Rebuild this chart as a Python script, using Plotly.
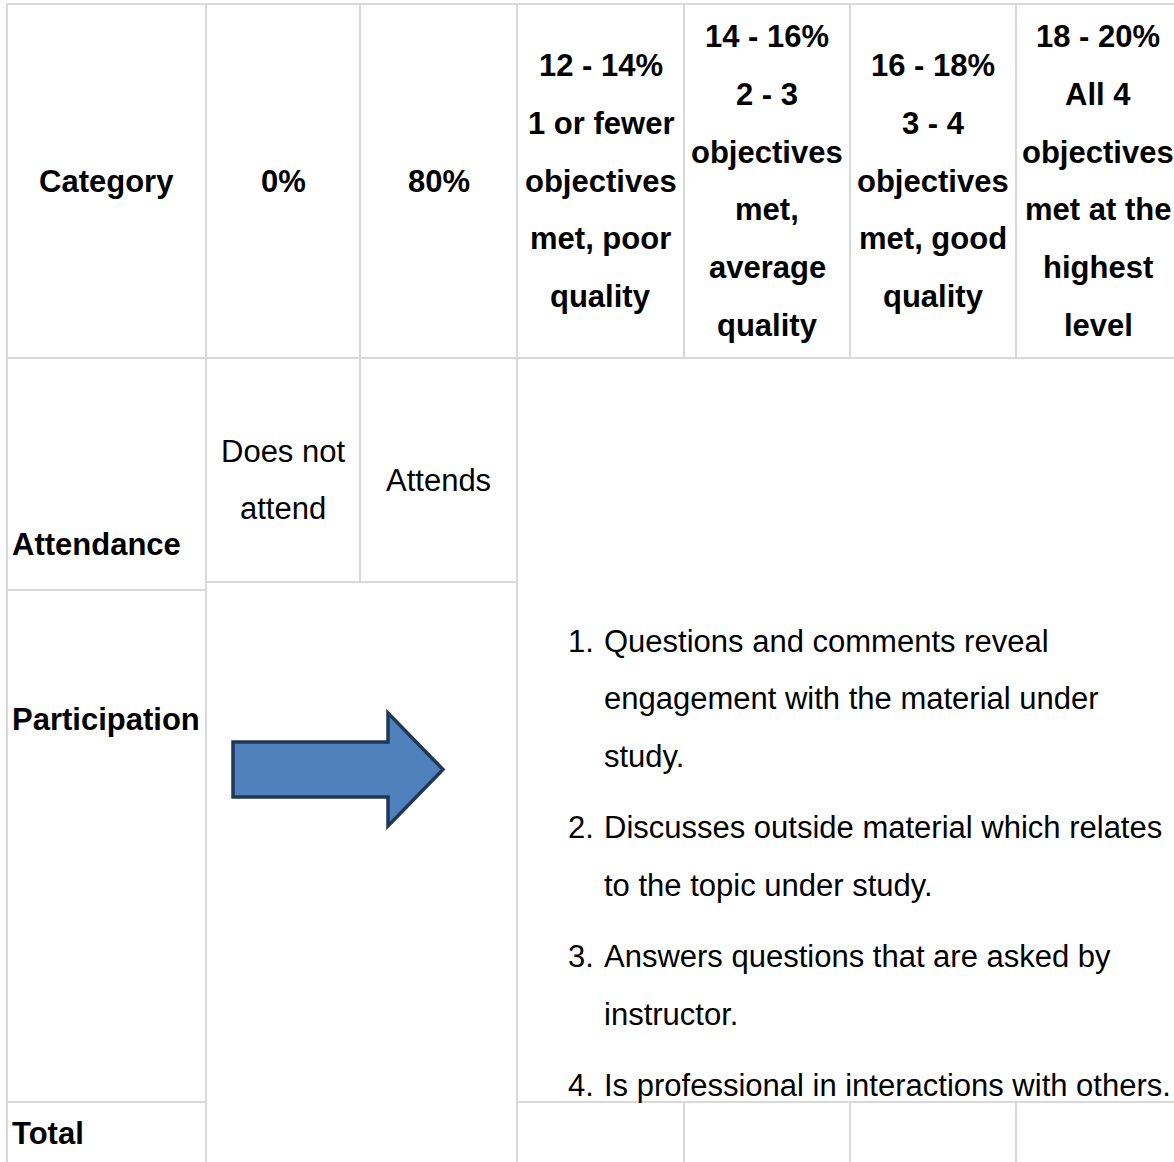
import plotly.graph_objects as go

# ---------------- data (text content) ----------------
row_categories = ["Attendance", "Participation", "Total"]
header_first = "Category"
score_headers = [
    ["0%"],
    ["80%"],
    ["12 - 14%", "1 or fewer", "objectives", "met, poor", "quality"],
    ["14 - 16%", "2 - 3", "objectives", "met,", "average", "quality"],
    ["16 - 18%", "3 - 4", "objectives", "met, good", "quality"],
    ["18 - 20%", "All 4", "objectives", "met at the", "highest", "level"],
]
attendance_levels = [["Does not", "attend"], ["Attends"]]
participation_objectives = [
    ["Questions and comments reveal", "engagement with the material under", "study."],
    ["Discusses outside material which relates", "to the topic under study."],
    ["Answers questions that are asked by", "instructor."],
    ["Is professional in interactions with others."],
]

# ---------------- layout / style ----------------
W, H = 1174, 1162
COL_X = [7, 206, 360, 517, 684, 850, 1016, 1180]
TOP, HEAD_B = 4, 358
ATT_B0, ATT_B12 = 590, 582
PART_B, BOTTOM = 1102, 1220
LINE_H = 57.7
ITEM_GAP = 13.5
FONT = "Liberation Sans, Arial, sans-serif"
FS = 31
GRID = "#d9d9d9"
GRID_W = 2

fig = go.Figure()
shapes = []
annotations = []


def cell(x0, x1, y0, y1):
    shapes.append(dict(type="rect", xref="x", yref="y", x0=x0, x1=x1, y0=y0, y1=y1,
                       line=dict(color=GRID, width=GRID_W), fillcolor="rgba(0,0,0,0)",
                       layer="below"))


def text(x, y, s, bold=False, anchor="center"):
    annotations.append(dict(x=x, y=y, xref="x", yref="y", text=("<b>%s</b>" % s) if bold else s,
                            showarrow=False, xanchor=anchor, yanchor="middle",
                            font=dict(family=FONT, size=FS, color="#000000")))


# header row cells
for i in range(7):
    cell(COL_X[i], COL_X[i + 1], TOP, HEAD_B)
# column 0 body cells
cell(COL_X[0], COL_X[1], HEAD_B, ATT_B0)
cell(COL_X[0], COL_X[1], ATT_B0, PART_B)
cell(COL_X[0], COL_X[1], PART_B, BOTTOM)
# attendance level cells
cell(COL_X[1], COL_X[2], HEAD_B, ATT_B12)
cell(COL_X[2], COL_X[3], HEAD_B, ATT_B12)
# merged arrow cell
cell(COL_X[1], COL_X[3], ATT_B12, BOTTOM)
# merged objectives cell
cell(COL_X[3], COL_X[7], HEAD_B, PART_B)
# total row cells
for i in range(3, 7):
    cell(COL_X[i], COL_X[i + 1], PART_B, BOTTOM)

# header text
hc = (TOP + HEAD_B) / 2
text((COL_X[0] + COL_X[1]) / 2, hc, header_first, bold=True)
for i, lines in enumerate(score_headers):
    cx = (COL_X[i + 1] + COL_X[i + 2]) / 2
    n = len(lines)
    for j, ln in enumerate(lines):
        text(cx, hc + (j - (n - 1) / 2) * LINE_H, ln, bold=True)

# row category labels (left aligned)
label_y = [ATT_B0 - 46, ATT_B0 + 129, PART_B + 31]
for lab, y in zip(row_categories, label_y):
    text(COL_X[0] + 3, y, lab, bold=True, anchor="left")

# attendance levels
ac = (HEAD_B + ATT_B12) / 2 + 10
for i, lines in enumerate(attendance_levels):
    cx = (COL_X[i + 1] + COL_X[i + 2]) / 2
    n = len(lines)
    for j, ln in enumerate(lines):
        text(cx, ac + (j - (n - 1) / 2) * LINE_H, ln)

# objectives list
y = HEAD_B + 283
num_x = COL_X[3] + 49
txt_x = COL_X[3] + 85
for k, lines in enumerate(participation_objectives):
    text(num_x, y, "%d." % (k + 1), anchor="left")
    for ln in lines:
        text(txt_x, y, ln, anchor="left")
        y += LINE_H
    y += ITEM_GAP

# arrow in merged cell
ax0 = COL_X[1] + 27
ax_base = COL_X[1] + 182
ax_tip = COL_X[1] + 237
ay_c = 769.5
path = ("M {x0},{s0} L {xb},{s0} L {xb},{h0} L {xt},{yc} L {xb},{h1} L {xb},{s1} L {x0},{s1} Z"
        .format(x0=ax0, xb=ax_base, xt=ax_tip, yc=ay_c,
                s0=ay_c - 27.5, s1=ay_c + 27.5, h0=ay_c - 56.5, h1=ay_c + 56.5))
shapes.append(dict(type="path", xref="x", yref="y", path=path, fillcolor="#4f81bd",
                   line=dict(color="#1f3857", width=3.5), layer="above"))

fig.update_layout(
    width=W, height=H,
    margin=dict(l=0, r=0, t=0, b=0),
    paper_bgcolor="white", plot_bgcolor="white",
    xaxis=dict(range=[0, W], visible=False, fixedrange=True),
    yaxis=dict(range=[H, 0], visible=False, fixedrange=True),
    shapes=shapes, annotations=annotations, showlegend=False,
)

fig.write_html("out.html", config={"displayModeBar": False},
               post_script="document.body.style.margin='0';document.body.style.overflow='hidden';")
